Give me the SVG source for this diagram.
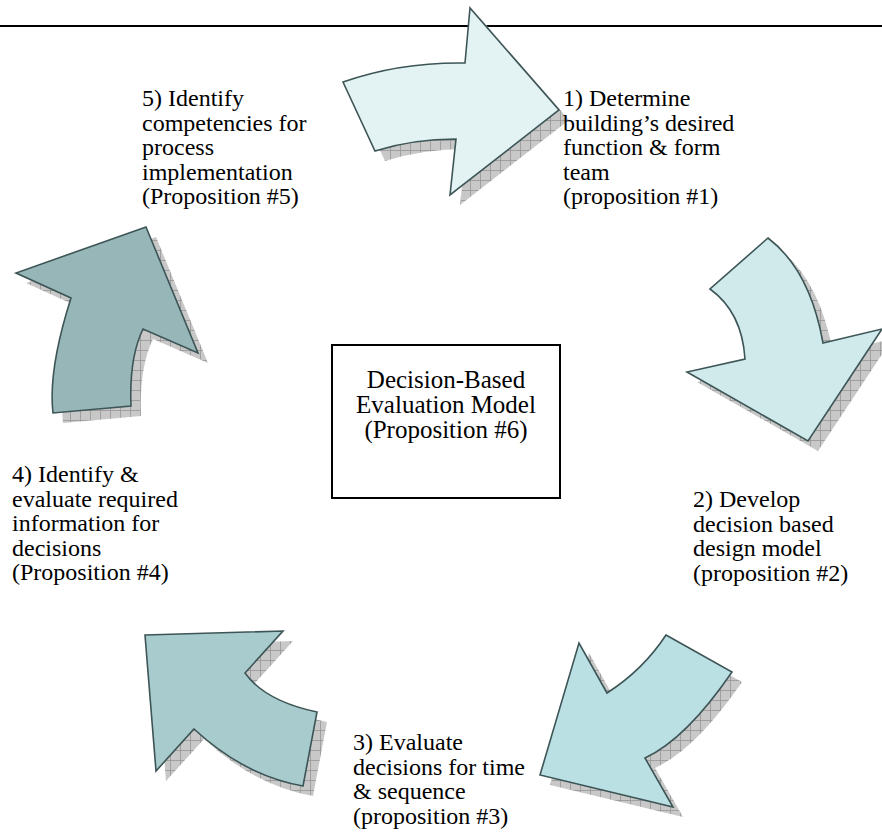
<svg xmlns="http://www.w3.org/2000/svg" width="882" height="834" viewBox="0 0 882 834">
  <style>
    .lbl { font-family: "Liberation Serif", "Times New Roman", serif; font-size: 24px; fill: #000; }
    .big { font-size: 25px; text-anchor: middle; }
    .arrow { stroke: #3d5556; stroke-width: 1.6; stroke-linejoin: miter; }
    .shadow { fill: url(#hatch); stroke: none; }
  </style>
  <defs>
    <!-- grey cross-hatched fill used for the drop shadows -->
    <pattern id="hatch" width="10" height="10" patternUnits="userSpaceOnUse">
      <rect width="10" height="10" fill="#c8c8c8"/>
      <path d="M0,0.5 H10 M0.5,0 V10" stroke="#969696" stroke-width="0.8"/>
    </pattern>
    <path id="p1" d="M343,82 Q400,62 465,63 L470,8 L559,110 L450,195 L456,139 Q413,139 375,151 Z"/>
    <path id="p2" d="M768,238 Q810,270 823,343 L882,329 L808,441 L687,372 L745,359 Q742,312 710,289 Z"/>
    <path id="p3" d="M666,635 L732,672 Q686,739 645,758 L673,807 L540,775 L579,643 L607,693 Q643,670 666,635 Z"/>
    <path id="p4" d="M145,635 L283,631 L245,673 Q265,701 317,712 L303,786 Q245,776 194,729 L156,771 Z"/>
    <path id="p5" d="M146,227 L198,353 L143,329 Q129,358 131,406 L53,413 Q48,370 71,298 L16,273 Z"/>
  </defs>

  <rect width="882" height="834" fill="#fff"/>

  <!-- header rule -->
  <line x1="0" y1="26" x2="882" y2="26" stroke="#000" stroke-width="2"/>

  <!-- curved arrows forming the cycle -->
  <g id="connectors">
    <g id="arrow-1">
      <use href="#p1" class="shadow" transform="translate(10,10)"/>
      <use href="#p1" class="arrow" fill="#e3f3f4"/>
    </g>
    <g id="arrow-2">
      <use href="#p2" class="shadow" transform="translate(10,10)"/>
      <use href="#p2" class="arrow" fill="#d0eaec"/>
    </g>
    <g id="arrow-3">
      <use href="#p3" class="shadow" transform="translate(10,10)"/>
      <use href="#p3" class="arrow" fill="#bbe0e3"/>
    </g>
    <g id="arrow-4">
      <use href="#p4" class="shadow" transform="translate(10,10)"/>
      <use href="#p4" class="arrow" fill="#a8cbcd"/>
    </g>
    <g id="arrow-5">
      <use href="#p5" class="shadow" transform="translate(10,10)"/>
      <use href="#p5" class="arrow" fill="#97b6b7"/>
    </g>
  </g>

  <!-- step labels -->
  <g id="step-1">
    <text class="lbl" x="563" y="106">1) Determine</text>
    <text class="lbl" x="563" y="130.5">building’s desired</text>
    <text class="lbl" x="563" y="155">function &amp; form</text>
    <text class="lbl" x="563" y="179.5">team</text>
    <text class="lbl" x="563" y="204">(proposition #1)</text>
  </g>
  <g id="step-2">
    <text class="lbl" x="693" y="507">2) Develop</text>
    <text class="lbl" x="693" y="531.5">decision based</text>
    <text class="lbl" x="693" y="556">design model</text>
    <text class="lbl" x="693" y="580.5">(proposition #2)</text>
  </g>
  <g id="step-3">
    <text class="lbl" x="353" y="750">3) Evaluate</text>
    <text class="lbl" x="353" y="774.5">decisions for time</text>
    <text class="lbl" x="353" y="799">&amp; sequence</text>
    <text class="lbl" x="353" y="823.5">(proposition #3)</text>
  </g>
  <g id="step-4">
    <text class="lbl" x="12" y="482">4) Identify &amp;</text>
    <text class="lbl" x="12" y="506.5">evaluate required</text>
    <text class="lbl" x="12" y="531">information for</text>
    <text class="lbl" x="12" y="555.5">decisions</text>
    <text class="lbl" x="12" y="580">(Proposition #4)</text>
  </g>
  <g id="step-5">
    <text class="lbl" x="142" y="106">5) Identify</text>
    <text class="lbl" x="142" y="130.5">competencies for</text>
    <text class="lbl" x="142" y="155">process</text>
    <text class="lbl" x="142" y="179.5">implementation</text>
    <text class="lbl" x="142" y="204">(Proposition #5)</text>
  </g>

  <!-- central model box -->
  <g id="model">
    <rect x="332" y="345" width="228" height="153" fill="#fff" stroke="#000" stroke-width="2"/>
    <text class="lbl big" x="446" y="388">Decision-Based</text>
    <text class="lbl big" x="446" y="413">Evaluation Model</text>
    <text class="lbl big" x="446" y="438">(Proposition #6)</text>
  </g>
</svg>
